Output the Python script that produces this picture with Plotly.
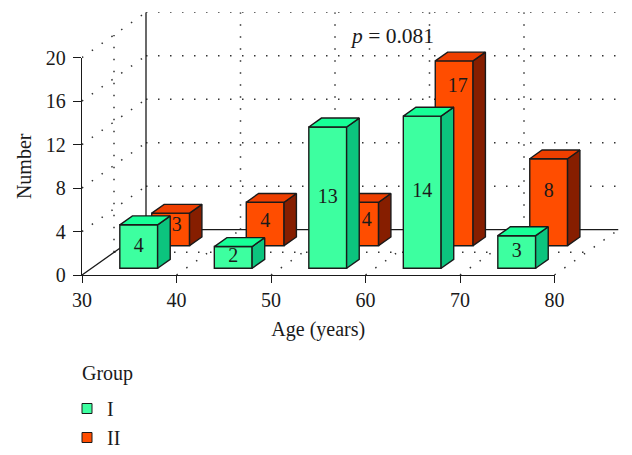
import plotly.graph_objects as go

# ---- data ----
age_centers = [35, 45, 55, 65, 75]
group_I = [4, 2, 13, 14, 3]
group_II = [3, 4, 4, 17, 8]
x_ticks = [30, 40, 50, 60, 70, 80]
y_ticks = [0, 4, 8, 12, 16, 20]
group_names = ["I", "II"]

# label nudges in pixels for labels placed on the visible part of a bar
nudge_I = [(0, 0), (0, 0), (0, 0), (0, 0), (0, 0)]
nudge_II = [(6, 3), (0, 2), (7, 3), (3.5, 66), (0, 10)]

# ---- geometry ----
W, H = 632, 455
X0, Y0 = 82.0, 275.0          # pixel of age 30 / number 0
PX_X, PX_Y = 9.45, 10.87      # pixels per unit
DEPTH_PX_X, DEPTH_PX_Y = 64.0, 45.3
DX, DY = DEPTH_PX_X / PX_X, DEPTH_PX_Y / PX_Y
BAR_W = 4
Z_I = (0.148, 0.345)
Z_II = (0.647, 0.84)

INK = "#1a1a1a"
DOT = "#333333"
GREEN = dict(front="#3DFFA0", side="#0CC47E", top="#17FF97")
RED = dict(front="#FF4D00", side="#861E00", top="#EE3F00")
FONT = "Liberation Serif"
FS = 20

x_full = [30, 80 + DX]
y_full = [0, 20 + DY]


def faces(centers, values, z, colors, ax, ay):
    z0, z1 = z
    traces = []
    ox0, oy0, ox1, oy1 = z0 * DX, z0 * DY, z1 * DX, z1 * DY
    sx, sy, tx, ty = [], [], [], []
    for c, v in zip(centers, values):
        l, r = c - BAR_W / 2, c + BAR_W / 2
        sx += [r + ox0, r + ox1, r + ox1, r + ox0, r + ox0, None]
        sy += [oy0, oy1, v + oy1, v + oy0, oy0, None]
        tx += [l + ox0, l + ox1, r + ox1, r + ox0, l + ox0, None]
        ty += [v + oy0, v + oy1, v + oy1, v + oy0, v + oy0, None]
    traces.append(go.Bar(x=[c + ox0 for c in centers], y=values, base=[oy0] * len(values),
                         width=BAR_W, marker=dict(color=colors["front"], line=dict(color=INK, width=1.4)),
                         xaxis=ax, yaxis=ay, showlegend=False, hoverinfo="skip"))
    for xs, ys, col in ((sx, sy, colors["side"]), (tx, ty, colors["top"])):
        traces.append(go.Scatter(x=xs, y=ys, mode="lines", fill="toself", fillcolor=col,
                                 line=dict(color=INK, width=1.4), xaxis=ax, yaxis=ay,
                                 showlegend=False, hoverinfo="skip"))
    return traces


def labels(centers, values, z, nudges, ax, ay):
    ox, oy = z[0] * DX, z[0] * DY
    return go.Scatter(
        x=[c + ox + n[0] / PX_X for c, n in zip(centers, nudges)],
        y=[oy + v / 2 + n[1] / PX_Y for v, n in zip(values, nudges)],
        text=[str(v) for v in values], mode="text", textposition="middle center",
        textfont=dict(family=FONT, size=FS, color=INK), xaxis=ax, yaxis=ay,
        showlegend=False, hoverinfo="skip")


def guide(xs, ys, solid=False):
    return go.Scatter(x=xs, y=ys, mode="lines", xaxis="x2", yaxis="y2", showlegend=False, hoverinfo="skip",
                      line=dict(color=INK if solid else DOT, width=1.3 if solid else 1.5,
                                dash="solid" if solid else "1.5px,10.5px"))


fig = go.Figure()

# legend keys and the real axes live on the first subplot
for name, col in zip(group_names, (GREEN, RED)):
    fig.add_trace(go.Scatter(x=[None], y=[None], mode="markers", name=name,
                             marker=dict(symbol="square", size=10, color=col["front"],
                                         line=dict(color=INK, width=1))))

# dotted walls and floor
for v in y_ticks[1:]:
    fig.add_trace(guide([30 + DX, 80 + DX], [v + DY, v + DY]))
    fig.add_trace(guide([30, 30 + DX], [v, v + DY]))
for t in x_ticks[1:-1]:
    fig.add_trace(guide([t + DX, t + DX], [DY, 20 + DY]))
for t in x_ticks[1:]:
    fig.add_trace(guide([t, t + DX], [0, DY]))
fig.add_trace(guide([30 + DX / 2, 80 + DX / 2], [DY / 2, DY / 2]))
fig.add_trace(guide([30 + DX / 2, 30 + DX / 2], [DY / 2, 20 + DY / 2]))
# solid walls
fig.add_trace(guide([30, 30 + DX, 30 + DX], [0, DY, 20 + DY], solid=True))
fig.add_trace(guide([30 + DX, 80 + DX], [DY, DY], solid=True))

# group II sits behind group I
for tr in faces(age_centers, group_II, Z_II, RED, "x3", "y3"):
    fig.add_trace(tr)
fig.add_trace(labels(age_centers, group_II, Z_II, nudge_II, "x3", "y3"))
for tr in faces(age_centers, group_I, Z_I, GREEN, "x4", "y4"):
    fig.add_trace(tr)
fig.add_trace(labels(age_centers, group_I, Z_I, nudge_I, "x4", "y4"))

x_dom_main = [X0 / W, (X0 + 50 * PX_X) / W]
y_dom_main = [(H - Y0) / H, (H - Y0 + 20 * PX_Y) / H]
x_dom_full = [X0 / W, (X0 + (x_full[1] - 30) * PX_X) / W]
y_dom_full = [(H - Y0) / H, (H - Y0 + y_full[1] * PX_Y) / H]

hidden = dict(visible=False, fixedrange=True)
tick_font = dict(family=FONT, size=FS, color=INK)
layout = dict(
    width=W, height=H, margin=dict(l=0, r=0, t=0, b=0, autoexpand=False),
    paper_bgcolor="white", plot_bgcolor="rgba(0,0,0,0)", font=dict(family=FONT, size=FS, color=INK),
    barmode="overlay",
    xaxis=dict(domain=x_dom_main, range=[30, 80], tickvals=x_ticks, ticks="outside", ticklen=7, tickwidth=1.3,
               tickcolor=INK, showline=True, linecolor=INK, linewidth=1.3, showgrid=False, zeroline=False,
               tickfont=tick_font, ticklabelstandoff=0, anchor="y", automargin=False,
               title=dict(text="Age (years)", font=tick_font, standoff=11)),
    yaxis=dict(domain=y_dom_main, range=[0, 20], tickvals=y_ticks, ticks="outside", ticklen=8, tickwidth=1.3,
               tickcolor=INK, showline=True, linecolor=INK, linewidth=1.3, showgrid=False, zeroline=False,
               tickfont=tick_font, ticklabelstandoff=3, anchor="x", automargin=False,
               title=dict(text="Number", font=tick_font, standoff=8)),
    legend=dict(x=67 / W, y=1 - 389 / H, xanchor="left", yanchor="top", bgcolor="rgba(0,0,0,0)",
                font=tick_font, itemclick=False, itemdoubleclick=False),
    annotations=[
        dict(text="<i>p</i> = 0.081", xref="x2", yref="y2", x=(392 - X0) / PX_X + 30,
             y=(Y0 - 36) / PX_Y, showarrow=False, font=dict(family=FONT, size=21.5, color=INK)),
        dict(text="Group", xref="paper", yref="paper", x=80 / W, y=1 - 373 / H, xanchor="left",
             yanchor="middle", showarrow=False, font=tick_font),
    ],
)
for i in (2, 3, 4):
    layout[f"xaxis{i}"] = dict(domain=x_dom_full, range=x_full, anchor=f"y{i}", **hidden)
    layout[f"yaxis{i}"] = dict(domain=y_dom_full, range=y_full, anchor=f"x{i}", **hidden)
fig.update_layout(**layout)

fig.write_html("out.html", config=dict(displayModeBar=False),
               post_script="document.body.style.margin='0';")
